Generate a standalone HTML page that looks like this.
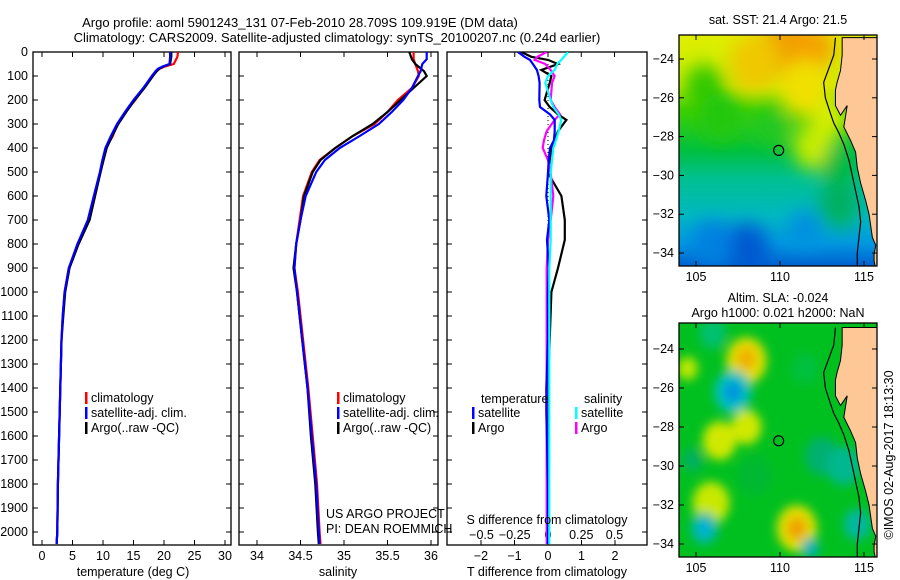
<!DOCTYPE html>
<html><head><meta charset="utf-8"><style>
html,body{margin:0;padding:0;background:#fff;}
svg{display:block;font-family:"Liberation Sans",sans-serif;}
text{font-size:12.5px;fill:#000;}
</style></head><body>
<svg id="fig" width="900" height="580" viewBox="0 0 900 580" xmlns="http://www.w3.org/2000/svg">
<defs>
<filter id="blur1" x="-50%" y="-50%" width="200%" height="200%"><feGaussianBlur stdDeviation="9"/></filter>
<filter id="blur2" x="-50%" y="-50%" width="200%" height="200%"><feGaussianBlur stdDeviation="5"/></filter>
<clipPath id="clipM1"><rect x="679" y="35" width="198" height="231"/></clipPath>
<clipPath id="clipM2"><rect x="679" y="323" width="198" height="234"/></clipPath>
<clipPath id="clipP1"><rect x="33" y="52" width="198" height="493"/></clipPath>
<clipPath id="clipP2"><rect x="239" y="52" width="199" height="493"/></clipPath>
<clipPath id="clipP3"><rect x="447" y="52" width="200" height="493"/></clipPath>
<linearGradient id="sstGrad" x1="0" y1="0" x2="0" y2="1">
<stop offset="0" stop-color="#e0ee00"/><stop offset="0.22" stop-color="#c8ec00"/>
<stop offset="0.32" stop-color="#40d000"/><stop offset="0.5" stop-color="#00c040"/>
<stop offset="0.62" stop-color="#00c090"/><stop offset="0.78" stop-color="#00b8c0"/>
<stop offset="0.9" stop-color="#0098e0"/><stop offset="1" stop-color="#0060d0"/>
</linearGradient>
</defs>
<text x="300" y="27" text-anchor="middle" style="font-size:13px">Argo profile: aoml 5901243_131 07-Feb-2010 28.709S 109.919E (DM data)</text>
<text x="337" y="42" text-anchor="middle" style="font-size:13px">Climatology: CARS2009. Satellite-adjusted climatology: synTS_20100207.nc (0.24d earlier)</text>
<g id="g"></g>
</svg>
<script>
// ---- data ----
const depthT = [0,20,50,60,70,80,100,150,200,250,300,350,400,450,500,600,700,800,900,1000,1100,1200,1400,1600,1800,2000,2050];
const tempArgo = [21.2,21.2,21.0,20.0,19.2,18.8,18.2,16.8,15.2,13.8,12.5,11.5,10.6,10.1,9.6,8.7,7.8,6.0,4.5,3.8,3.5,3.2,3.0,2.8,2.6,2.5,2.4];
const tempSat = [21.0,21.0,20.9,19.8,19.0,18.6,18.0,16.6,15.0,13.6,12.3,11.3,10.4,9.9,9.5,8.5,7.5,5.8,4.4,3.7,3.4,3.2,3.0,2.8,2.6,2.5,2.4];
const tempClim = [22.3,22.2,21.6,20.2,19.3,18.8,18.1,16.7,15.3,13.7,12.4,11.6,10.5,10.0,9.6,8.6,7.6,5.9,4.4,3.7,3.4,3.2,3.0,2.8,2.6,2.5,2.4];
const depthS = [0,30,50,80,100,150,200,250,300,350,400,450,500,600,700,800,900,1000,1200,1400,1600,1800,2000,2050];
const salArgo = [35.75,35.78,35.82,35.92,35.95,35.8,35.65,35.5,35.33,35.1,34.9,34.73,34.64,34.54,34.5,34.45,34.42,34.46,34.52,34.58,34.62,34.67,34.7,34.71];
const salSat = [35.95,35.95,35.9,35.88,35.85,35.78,35.68,35.55,35.4,35.18,34.95,34.78,34.68,34.56,34.5,34.45,34.43,34.46,34.52,34.58,34.63,34.68,34.71,34.72];
const salClim = [35.8,35.8,35.82,35.85,35.86,35.78,35.62,35.5,35.35,35.1,34.9,34.72,34.63,34.53,34.49,34.45,34.43,34.47,34.53,34.59,34.64,34.69,34.72,34.73];
const depthD = [0,20,33,50,75,100,129,200,229,260,283,330,367,400,450,504,600,700,783,900,1000,1200,1400,1500,1800,2000,2050];
const dTsat = [-0.9,-0.7,-0.54,-0.45,-0.33,-0.28,-0.25,-0.26,-0.24,0.06,0.2,0.2,0.18,0.06,0.02,0.0,-0.05,0.04,-0.03,0.02,0.0,0.0,-0.05,-0.05,0.0,0.0,0.0];
const dTargo = [-0.8,-0.5,0.0,0.3,-0.2,0.1,0.05,-0.1,0.05,0.3,0.55,0.3,0.2,0.1,0.05,0.0,0.4,0.5,0.5,0.3,0.1,0.05,0.0,0.0,0.0,0.0,0.0];
const dSsat = [0.15,0.12,0.1,0.07,0.05,0.0,-0.02,0.02,0.04,0.08,0.1,0.08,0.06,0.04,0.03,0.02,0.02,0.02,0.02,0.01,0.01,0.01,0.01,0.01,0.01,0.01,0.01];
const dSargo = [-0.01,-0.08,-0.1,-0.02,0.02,0.05,0.03,0.02,0.05,0.09,0.05,-0.01,-0.03,-0.04,0.0,0.02,0.04,0.02,0.0,-0.01,-0.01,-0.01,-0.01,-0.01,-0.01,-0.01,-0.01];
const tempTicks = [0,5,10,15,20,25,30];
const salTicks = [34,34.5,35,35.5,36];
const tdTicks = [-2,-1,0,1,2];
const sdTicks = [-0.5,-0.25,0,0.25,0.5];
const sdTickLabels = ["\u22120.5","\u22120.25","0","0.25","0.5"];
const depthTicks = [0,100,200,300,400,500,600,700,800,900,1000,1100,1200,1300,1400,1500,1600,1700,1800,1900,2000];
const lonTicks = [105,110,115];
const latTicks = [-24,-26,-28,-30,-32,-34];
const argoLon = 109.919, argoLat = -28.709;
// map blobs: [lon, lat, radius(deg), color]
const sstBlobs = [[110.5,-23.4,1.6,"#f0a000"],[112,-23.5,1.2,"#f5a000"],[108.5,-24.2,1.5,"#f0c800"],[111.5,-25.5,1.5,"#f0e000"],[105.5,-25.5,1.2,"#30c800"],[106.5,-27,1.3,"#20c810"],[109.5,-27.5,1.0,"#20c820"],[112,-28.5,1.2,"#c8ec00"],[113,-27,1.0,"#d8ee00"],[108,-33.8,1.3,"#0058d0"],[106,-33.5,1.2,"#0080e0"],[111.5,-32.8,1.0,"#0090e0"],[113.5,-31.5,1.2,"#00b060"],[113.5,-29.5,1.0,"#00b840"]];
const slaBlobs = [[108,-24.6,1.2,"#e0e000"],[108,-24.5,0.6,"#f0b000"],[107.2,-26.2,1.1,"#00c0c0"],[107.2,-26.2,0.5,"#0090e0"],[106.4,-28.7,1.0,"#d0e800"],[108,-28,0.9,"#d0e800"],[105.9,-31.9,1.1,"#c8e800"],[111,-33.2,1.2,"#e0e000"],[111,-33.2,0.6,"#f0a000"],[105.5,-33.2,0.8,"#00b8b0"],[105.5,-33.2,0.35,"#00b0e0"],[104.5,-25,0.6,"#c0e800"],[106,-23.2,0.8,"#00c070"],[111.5,-25,0.8,"#00c040"],[112.5,-29.5,1.0,"#00b070"],[108.5,-30.5,1.0,"#00b830"],[104.8,-29.7,0.6,"#00b060"],[111.8,-34.2,0.5,"#00b0c0"],[113.8,-30,1.0,"#00b890"],[114.6,-33,0.8,"#00b8a0"]];
const coastLon = [113.7,113.7,113.6,113.4,113.3,113.3,113.6,114.0,113.8,114.2,114.5,114.6,114.8,115.1,115.3,115.4,115.5,115.7,115.6,115.6,115.7,116,116];
const coastLat = [-22.9,-23.8,-24.6,-25.2,-25.6,-26.4,-26.9,-26.4,-27.5,-28.2,-28.8,-29.6,-30.4,-31.3,-32.0,-32.6,-33.2,-33.6,-34.1,-34.4,-34.8,-34.8,-22.9];
const isoLon = [113.3,113.2,112.9,112.6,112.7,113.0,113.2,113.5,113.8,114.1,114.3,114.5,114.7,114.8,114.7,114.6,114.6];
const isoLat = [-22.9,-23.8,-24.5,-25.2,-26.0,-26.8,-27.3,-27.8,-28.4,-29.2,-30.0,-30.8,-31.6,-32.4,-33.2,-34.0,-34.8];

// ---- helpers ----
const NS="http://www.w3.org/2000/svg";
const G=document.getElementById('g');
function el(tag,attrs,parent){const e=document.createElementNS(NS,tag);for(const k in attrs)e.setAttribute(k,attrs[k]);(parent||G).appendChild(e);return e;}
function txt(x,y,s,anchor,parent,size){const t=el('text',{x:x,y:y,'text-anchor':anchor||'start'},parent);if(size)t.style.fontSize=size+'px';t.textContent=s;return t;}
const yD=d=>52+d*0.24;
const xT=t=>42+t*6.1;
const xS=s=>257+(s-34)*87;
const xTD=v=>548+v*33.5;
const xSD=v=>548+v*133;
const mLon=l=>696+(l-105)*16.8;
const m1Lat=l=>59+(-24-l)*19.4;
const m2Lat=l=>349+(-24-l)*19.5;

function frame(x0,x1,name){
  const r=el('rect',{x:x0,y:52,width:x1-x0,height:493,fill:'none',stroke:'#000','stroke-width':1.3});
  
  
  depthTicks.forEach(d=>{el('line',{x1:x0,x2:x0+5,y1:yD(d),y2:yD(d),stroke:'#000'});el('line',{x1:x1-5,x2:x1,y1:yD(d),y2:yD(d),stroke:'#000'});});
}
function line(xs,ds,xf,color,clip,name,w){
  const pts=xs.map((v,i)=>xf(v).toFixed(1)+','+yD(ds[i]).toFixed(1)).join(' ');
  const p=el('polyline',{points:pts,fill:'none',stroke:color,'stroke-width':w||2.2,'clip-path':'url(#'+clip+')'});
  
  
}

// panel 1
frame(33,231,'temperature-panel');
depthTicks.forEach(d=>{const t=txt(28,yD(d)+4,String(d),'end');});
tempTicks.forEach(v=>{el('line',{x1:xT(v),x2:xT(v),y1:52,y2:57,stroke:'#000'});el('line',{x1:xT(v),x2:xT(v),y1:540,y2:545,stroke:'#000'});const t=txt(xT(v),560,String(v),'middle');});
line(tempClim,depthT,xT,'#f00','clipP1','temp-climatology-line');
line(tempArgo,depthT,xT,'#000','clipP1','temp-argo-line');
line(tempSat,depthT,xT,'#00f','clipP1','temp-satellite-line');
txt(133,576,'temperature (deg C)','middle');

// panel 2
frame(239,438,'salinity-panel');
salTicks.forEach(v=>{el('line',{x1:xS(v),x2:xS(v),y1:52,y2:57,stroke:'#000'});el('line',{x1:xS(v),x2:xS(v),y1:540,y2:545,stroke:'#000'});const t=txt(xS(v),560,String(v),'middle');});
line(salClim,depthS,xS,'#f00','clipP2','sal-climatology-line');
line(salArgo,depthS,xS,'#000','clipP2','sal-argo-line');
line(salSat,depthS,xS,'#00f','clipP2','sal-satellite-line');
txt(338,576,'salinity','middle');

// legends
function legend(x,y,entries,prefix){
  entries.forEach((e,i)=>{
    const g=el('g',{});
    
    
    el('rect',{x:x,y:y+i*15-10,width:2.5,height:12,fill:e[1]},g);
    txt(x+6,y+i*15,e[0],'start',g);
  });
}
legend(85,402,[['climatology','#f00'],['satellite-adj. clim.','#00f'],['Argo(..raw -QC)','#000']],'temperature');
legend(337,402,[['climatology','#f00'],['satellite-adj. clim.','#00f'],['Argo(..raw -QC)','#000']],'salinity');
txt(326,518,'US ARGO PROJECT');
txt(326,533,'PI: DEAN ROEMMICH');

// panel 3
frame(447,647,'difference-panel');
el('line',{x1:548,x2:548,y1:52,y2:545,stroke:'#000','stroke-dasharray':'1,3'});
tdTicks.forEach(v=>{el('line',{x1:xTD(v),x2:xTD(v),y1:540,y2:545,stroke:'#000'});const t=txt(xTD(v),560,String(v).replace('-','\u2212'),'middle');});
sdTicks.forEach((v,i)=>{el('line',{x1:xSD(v),x2:xSD(v),y1:52,y2:57,stroke:'#000'});const t=txt(xSD(v),539,sdTickLabels[i],'middle');});
line(dTargo,depthD,xTD,'#000','clipP3','t-diff-argo-line');
line(dSargo,depthD,xSD,'#f0f','clipP3','s-diff-argo-line');
line(dTsat,depthD,xTD,'#00f','clipP3','t-diff-satellite-line');
line(dSsat,depthD,xSD,'#0ff','clipP3','s-diff-satellite-line');
txt(481,403,'temperature');
txt(584,403,'salinity');
legend(472,417,[['satellite','#00f'],['Argo','#000']],'t-diff');
legend(575,417,[['satellite','#0ff'],['Argo','#f0f']],'s-diff');
txt(547,524,'S difference from climatology','middle');
txt(547,576,'T difference from climatology','middle');

// maps
function map(top,h,latF,clip,blobs,base,name,filt){
  const g=el('g',{'clip-path':'url(#'+clip+')'});
  
  
  el('rect',{x:679,y:top,width:198,height:h,fill:base},g);
  const bg=el('g',{filter:'url(#'+filt+')'},g);
  blobs.forEach(b=>{const c=el('ellipse',{cx:mLon(b[0]),cy:latF(b[1]),rx:b[2]*16.8,ry:b[2]*19.4,fill:b[3]},bg);});
  const iso=el('polyline',{points:isoLon.map((v,i)=>mLon(v)+','+latF(isoLat[i])).join(' '),fill:'none',stroke:'#000','stroke-width':1.2},g);
  
  
  const land=el('polygon',{points:coastLon.map((v,i)=>mLon(v)+','+latF(coastLat[i])).join(' '),fill:'#fdc896',stroke:'#000','stroke-width':1},g);
  
  
  const fr=el('rect',{x:679,y:top,width:198,height:h,fill:'none',stroke:'#000','stroke-width':1.3});
  
  
  lonTicks.forEach(l=>{el('line',{x1:mLon(l),x2:mLon(l),y1:top,y2:top+5,stroke:'#000'});el('line',{x1:mLon(l),x2:mLon(l),y1:top+h-5,y2:top+h,stroke:'#000'});const t=txt(mLon(l),top+h+15,String(l),'middle');});
  latTicks.forEach(l=>{el('line',{x1:679,x2:684,y1:latF(l),y2:latF(l),stroke:'#000'});el('line',{x1:872,x2:877,y1:latF(l),y2:latF(l),stroke:'#000'});const t=txt(674,latF(l)+4,'\u2212'+String(-l),'end');});
  const c=el('circle',{cx:mLon(argoLon),cy:latF(argoLat),r:5,fill:'none',stroke:'#000','stroke-width':1.2});
  
  
}
map(35,231,m1Lat,'clipM1',sstBlobs,'url(#sstGrad)','sst-map','blur1');
map(323,234,m2Lat,'clipM2',slaBlobs,'#00c020','sla-map','blur2');
txt(778,24,'sat. SST: 21.4 Argo: 21.5','middle');
txt(778,302,'Altim. SLA: -0.024','middle');
txt(778,317,'Argo h1000: 0.021 h2000: NaN','middle');
const cr=txt(0,0,'\u00a9IMOS 02-Aug-2017 18:13:30','middle');
cr.setAttribute('transform','translate(893,455) rotate(-90)');


</script>
</body></html>
